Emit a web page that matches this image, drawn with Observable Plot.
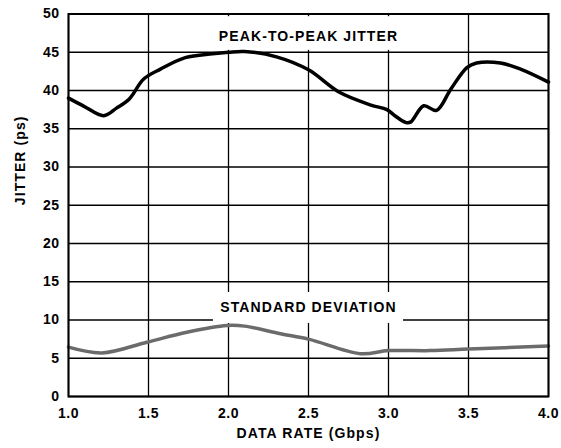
<!DOCTYPE html>
<html><head><meta charset="utf-8">
<script src="https://cdn.jsdelivr.net/npm/d3@7"></script>
<script src="https://cdn.jsdelivr.net/npm/@observablehq/plot@0.6"></script>
<style>
body{margin:0;background:#fff;}
svg text{letter-spacing:0.5px;}
svg g.anno text{letter-spacing:1.1px;}
</style></head><body><div id="chart"></div>
<script>
// Peak-to-peak jitter (ps) vs data rate (Gbps)
const ppRate   = [1.0, 1.1, 1.22, 1.3, 1.38, 1.47, 1.575, 1.73, 1.9, 2.0, 2.1, 2.3, 2.5, 2.69, 2.89, 2.99, 3.04, 3.11, 3.14, 3.22, 3.30, 3.39, 3.49, 3.55, 3.70, 3.825, 4.0];
const ppJitter = [39.0, 37.9, 36.7, 37.7, 38.9, 41.5, 42.8, 44.3, 44.8, 45.0, 45.1, 44.4, 42.7, 39.8, 38.1, 37.5, 36.7, 35.8, 35.9, 38.0, 37.4, 40.2, 43.0, 43.6, 43.6, 42.8, 41.1];
// Standard deviation (ps)
const sdRate   = [1.0, 1.21, 1.49, 1.74, 1.99, 2.1, 2.325, 2.5, 2.825, 3.0, 3.26, 3.5, 4.0];
const sdJitter = [6.45, 5.7, 7.1, 8.4, 9.28, 9.2, 8.2, 7.5, 5.6, 6.0, 6.0, 6.2, 6.6];

const xTicks = [1.0, 1.5, 2.0, 2.5, 3.0, 3.5, 4.0];
const yTicks = [0, 5, 10, 15, 20, 25, 30, 35, 40, 45, 50];

const labelText = ["PEAK-TO-PEAK JITTER", "STANDARD DEVIATION"];
const labelX = [2.5, 2.5];
const labelY = [47.1, 11.6];
const boxX1 = [1.906, 1.906], boxX2 = [3.094, 3.094];
const boxY1 = [45.25, 9.55], boxY2 = [49.65, 13.6];

const pp = ppRate.map((r, i) => ({rate: r, jitter: ppJitter[i]}));
const sd = sdRate.map((r, i) => ({rate: r, jitter: sdJitter[i]}));
const labels = labelText.map((t, i) => ({text: t, x: labelX[i], y: labelY[i], x1: boxX1[i], x2: boxX2[i], y1: boxY1[i], y2: boxY2[i]}));

const chart = Plot.plot({
  width: 561, height: 448,
  marginLeft: 68, marginRight: 13, marginTop: 13.5, marginBottom: 52,
  style: {fontFamily: "'Liberation Sans', Arial, sans-serif", fontSize: "14px", fontWeight: "bold", background: "white", color: "black"},
  x: {domain: [1, 4]},
  y: {domain: [0, 50]},
  marks: [
    Plot.ruleX(xTicks, {stroke: "black", strokeWidth: 1.3}),
    Plot.ruleY(yTicks, {stroke: "black", strokeWidth: 1.3}),
    Plot.rect(labels, {x1: "x1", x2: "x2", y1: "y1", y2: "y2", fill: "white"}),
    Plot.line(sd, {x: "rate", y: "jitter", curve: "catmull-rom", stroke: "#6b6b6b", strokeWidth: 3.5}),
    Plot.line(pp, {x: "rate", y: "jitter", curve: "catmull-rom", stroke: "black", strokeWidth: 3.5}),
    Plot.text(labels, {x: "x", y: "y", text: "text", fill: "black", fontSize: 14, fontWeight: "bold", className: "anno"}),
    Plot.frame({stroke: "black", strokeWidth: 2}),
    Plot.axisX({ticks: xTicks, tickFormat: d => d.toFixed(1), tickSize: 0, tickPadding: 12, label: null}),
    Plot.axisY({ticks: yTicks, tickSize: 0, tickPadding: 9, label: null}),
    Plot.text(["DATA RATE (Gbps)"], {frameAnchor: "bottom", dy: 41, text: d => d, fontSize: 14, fontWeight: "bold", className: "anno"}),
    Plot.text(["JITTER (ps)"], {frameAnchor: "left", dx: -48, rotate: -90, text: d => d, fontSize: 14, fontWeight: "bold", className: "anno"})
  ]
});
document.getElementById("chart").appendChild(chart);
</script></body></html>
